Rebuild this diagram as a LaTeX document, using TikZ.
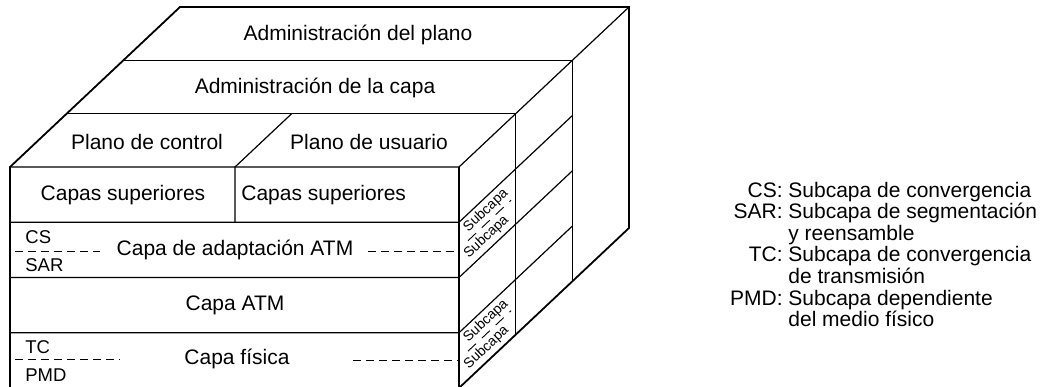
\documentclass[tikz,border=0pt]{standalone}
\usepackage{fontspec}
\setmainfont{Liberation Sans}

\tikzset{
  boxline/.style={line width=0.6pt},
  rimline/.style={line width=0.9pt, line join=miter},
  layertext/.style={font=\fontsize{10.5}{12.6}\selectfont},
  sublabel/.style={font=\fontsize{9.25}{11}\selectfont, anchor=west, inner sep=0pt},
  sidetext/.style={font=\fontsize{7}{8}\selectfont, rotate=43.26, inner sep=0pt},
  subdash/.style={line width=0.45pt, dash pattern=on 4pt off 2.5pt},
  sidedash/.style={line width=0.45pt, dash pattern=on 5.5pt off 4pt},
  keytext/.style={font=\fontsize{10.5}{12.6}\selectfont, anchor=base east, inner sep=0pt},
  infotext/.style={font=\fontsize{10.5}{12.6}\selectfont, anchor=base west, inner sep=0pt}
}

\begin{document}
\begin{tikzpicture}[x=0.5pt,y=-0.5pt]
    \useasboundingbox (0,0) rectangle (1047,386);

    % Outer rim of the cube
    \draw[rimline] (10,167) -- (180,7) -- (629,7) -- (629,228) -- (459,388) -- (10,388) -- cycle;

    % Top face
    \draw[boxline] (10,167) -- (459,167) -- (629,7);
    \draw[boxline] (66.67,113.67) -- (515.67,113.67);
    \draw[boxline] (123.33,60.33) -- (572.33,60.33);
    \draw[boxline] (235,222.25) -- (235,167) -- (291.67,113.67);

    % Front face rows, carried round the side
    \draw[boxline] (459,167) -- (459,388);
    \foreach \y in {222.25,277.5,332.75}
        \draw[boxline] (10,\y) -- (459,\y) -- ++(113.33,-106.67);

    % Side face columns
    \draw[boxline] (515.67,113.67) -- (515.67,334.67);
    \draw[boxline] (572.33,60.33) -- (572.33,281.33);

    % Planes on top
    \node[layertext] (plane) at (358,35) {Administración del plano};
    \node[layertext] (layermgmt) at (315,88) {Administración de la capa};
    \node[layertext] (ctrl) at (147,142) {Plano de control};
    \node[layertext] (user) at (369,142) {Plano de usuario};

    % Layers on the front
    \node[layertext] (upperL) at (123,195) {Capas superiores};
    \node[layertext, anchor=west, inner sep=0pt] (upperR) at (241,195) {Capas superiores};
    \node[layertext] (aal) at (235,250) {Capa de adaptación ATM};
    \node[layertext] (atm) at (235,305) {Capa ATM};
    \node[layertext] (phy) at (237,359) {Capa física};

    % -- sublayers
    \node[sublabel] (cs) at (25,237) {CS};
    \node[sublabel] (sar) at (25,265) {SAR};
    \node[sublabel] (tc) at (25,347) {TC};
    \node[sublabel] (pmd) at (25,375) {PMD};
    \draw[subdash] (15,251.5) -- (100,251.5);
    \draw[subdash] (368,251.5) -- (459,251.5);
    \draw[subdash] (15,359.5) -- (120,359.5);
    \draw[subdash] (353,360) -- (459,360);

    % -- sublayers on the side
    \node[sidetext] (aalSubA) at (486,210.5) {Subcapa};
    \node[sidetext] (aalSubB) at (486.5,237) {Subcapa};
    \draw[sidedash] (468,240.7) -- (511,200.2);
    \node[sidetext] (phySubA) at (486,321) {Subcapa};
    \node[sidetext] (phySubB) at (486.5,347.5) {Subcapa};
    \draw[sidedash] (468,351.2) -- (511,310.7);

    % Legend
    \node[keytext] (csKey) at (783,197) {CS:};
    \node[infotext] (csInfo) at (788,197) {Subcapa de convergencia};
    \node[keytext] (sarKey) at (783,218.5) {SAR:};
    \node[infotext] (sarInfo) at (788,218.5) {Subcapa de segmentación};
    \node[infotext] (sarMore) at (788,240) {y reensamble};
    \node[keytext] (tcKey) at (783,261.7) {TC:};
    \node[infotext] (tcInfo) at (788,261.7) {Subcapa de convergencia};
    \node[infotext] (tcMore) at (788,283.3) {de transmisión};
    \node[keytext] (pmdKey) at (783,305) {PMD:};
    \node[infotext] (pmdInfo) at (788,305) {Subcapa dependiente};
    \node[infotext] (pmdMore) at (788,326.5) {del medio físico};
\end{tikzpicture}
\end{document}
